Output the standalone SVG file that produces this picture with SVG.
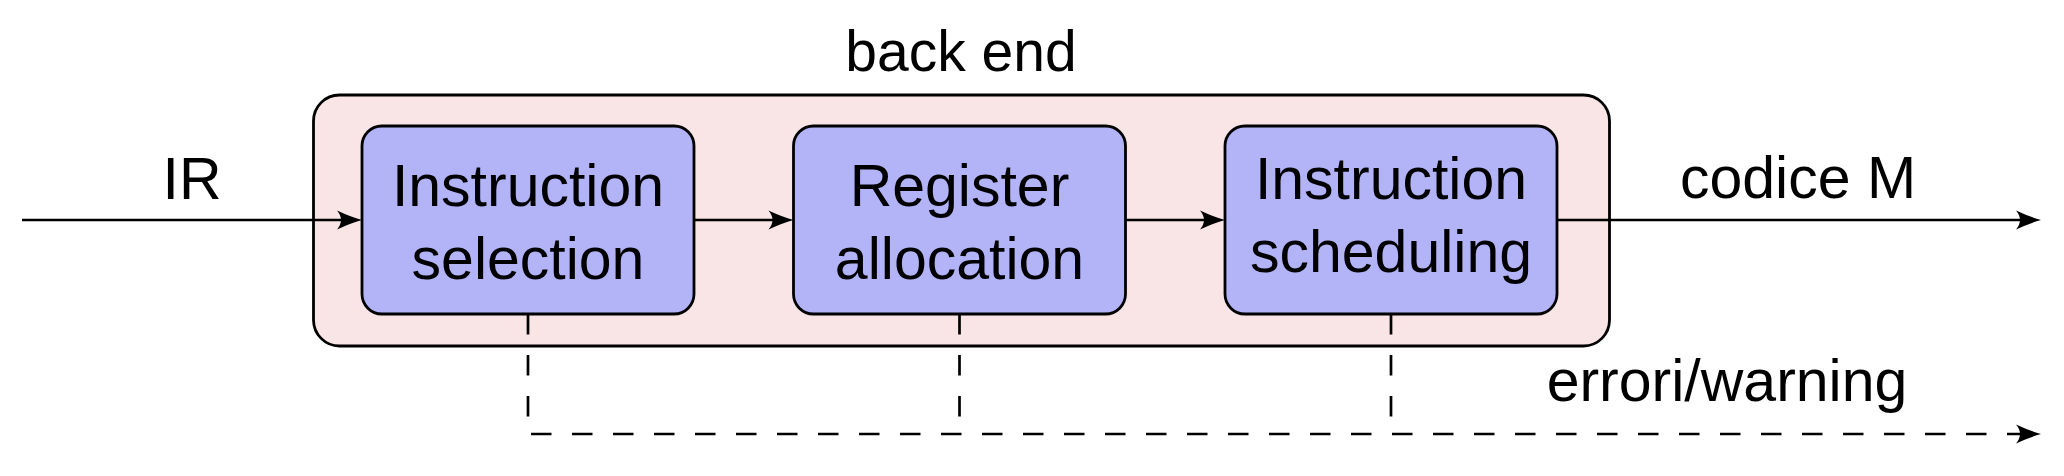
<svg xmlns="http://www.w3.org/2000/svg" width="2064" height="476" viewBox="0 0 2064 476">
<style>
text{font-family:"Liberation Sans",Arial,sans-serif;font-size:59px;fill:#000;text-anchor:middle}
.outer{fill:#f9e5e5;stroke:#000;stroke-width:2.8}
.box{fill:#b3b3f8;stroke:#000;stroke-width:2.8}
.conn{fill:none;stroke:#000;stroke-width:2.7}
.dash{stroke-dasharray:20.5 20.5}
.head{fill:#000}
</style>
<defs>
<path id="ah" d="M0,0 Q-11,-3 -25,-9.5 Q-17,0 -25,9.5 Q-11,3 0,0 Z"/>
</defs>
<g id="backend">
<rect class="outer" x="313.5" y="95" width="1296" height="251" rx="26" ry="26"/>
<text x="961" y="71" style="font-size:57px">back end</text>
</g>
<g id="connectors">
<path class="conn" d="M22,220 H352"/>
<use href="#ah" class="head" transform="translate(362,220)"/>
<path class="conn" d="M694,220 H783"/>
<use href="#ah" class="head" transform="translate(793.5,220)"/>
<path class="conn" d="M1126,220 H1215"/>
<use href="#ah" class="head" transform="translate(1225,220)"/>
<path class="conn" d="M1557,220 H2031"/>
<use href="#ah" class="head" transform="translate(2041,220)"/>
<path class="conn dash" d="M528,314 V434 H2031"/>
<use href="#ah" class="head" transform="translate(2041,434)"/>
<path class="conn dash" d="M959.5,314 V434"/>
<path class="conn dash" d="M1391,314 V434"/>
<text x="192" y="199">IR</text>
<text x="1798" y="198">codice M</text>
<text x="1727" y="401">errori/warning</text>
</g>
<g id="isel">
<rect class="box" x="362" y="126" width="332" height="188" rx="20" ry="20"/>
<text x="528" y="206">Instruction</text>
<text x="528" y="279">selection</text>
</g>
<g id="regalloc">
<rect class="box" x="793.5" y="126" width="332" height="188" rx="20" ry="20"/>
<text x="959.5" y="206">Register</text>
<text x="959.5" y="279">allocation</text>
</g>
<g id="isched">
<rect class="box" x="1225" y="126" width="332" height="188" rx="20" ry="20"/>
<text x="1391" y="199">Instruction</text>
<text x="1391" y="272">scheduling</text>
</g>
</svg>
